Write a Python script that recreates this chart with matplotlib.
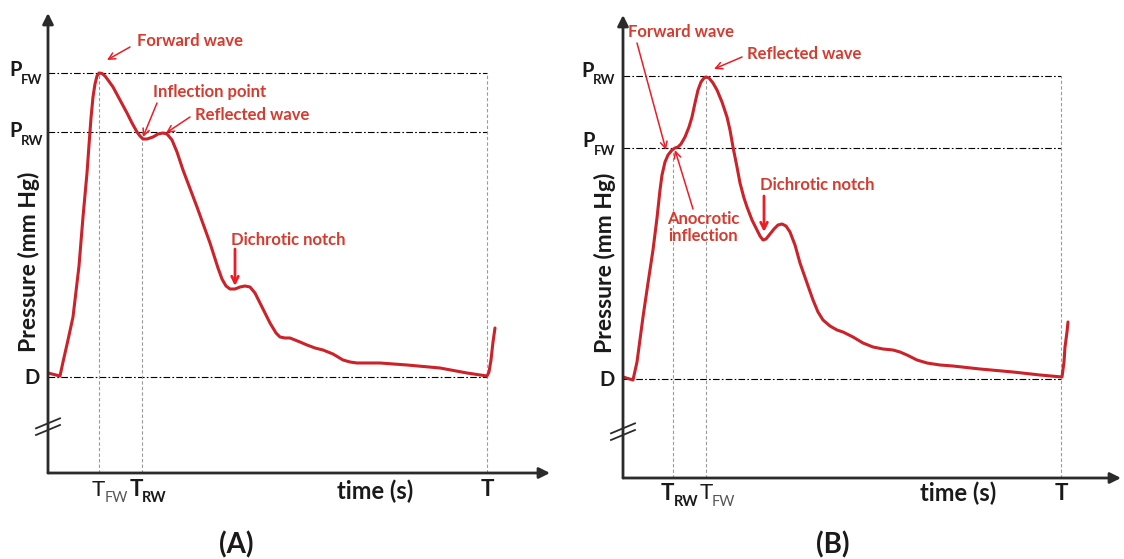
import matplotlib
matplotlib.use('Agg')
import matplotlib.pyplot as plt

plt.rcParams['font.family'] = ['Lato', 'DejaVu Sans']

# Panel A: forward wave peak first, reflected wave later (time in ms, pressure in mm Hg)
timeA = [0, 24, 30, 40, 50, 62, 70, 78, 82, 86, 90, 94, 98, 102, 108, 114, 120, 130, 144, 158, 168,
         178, 184, 190, 198, 210, 220, 230, 238, 248, 258, 270, 298, 324, 340, 348, 356, 364, 374, 384,
         394, 404, 414, 424, 444, 456, 464, 474, 484, 504, 518, 534, 550, 570, 590, 604, 618, 644, 664,
         718, 784, 838, 878, 882, 886, 890, 894]
pressureA = [75.0, 74.55, 76.65, 79.95, 83.4, 91.05, 98.4, 105.0, 109.2, 113.25, 116.4, 118.35, 119.55,
             120.0, 119.93, 119.55, 118.95, 117.9, 115.95, 114.0, 112.5, 111.15, 110.55, 110.1, 110.1,
             110.4, 110.85, 111.0, 110.85, 109.95, 108.15, 105.45, 99.9, 94.5, 90.75, 89.1, 88.05, 87.6,
             87.6, 87.9, 88.05, 87.9, 87.0, 85.5, 82.5, 81.0, 80.4, 80.25, 80.25, 79.65, 79.2, 78.75,
             78.45, 77.85, 76.95, 76.65, 76.5, 76.5, 76.5, 76.2, 75.75, 75.0, 74.55, 75.15, 76.95, 79.65,
             81.75]
levelsA = {'PFW': 120.05, 'PRW': 111.15, 'D': 74.4}
timesA = {'TFW': 102, 'TRW': 188, 'T': 878}

# Panel B: reflected wave arrives before forward wave peak
timeB = [0, 20, 28, 40, 50, 60, 68, 74, 78, 84, 90, 98, 104, 110, 116, 124, 132, 138, 144, 150, 156,
         162, 166, 172, 180, 188, 198, 208, 214, 220, 228, 234, 242, 248, 258, 268, 274, 280, 286, 294,
         302, 310, 318, 326, 334, 344, 354, 368, 380, 390, 400, 414, 428, 440, 460, 480, 500, 520, 540,
         554, 568, 588, 608, 634, 660, 714, 780, 834, 878, 882, 884, 888, 890]
pressureB = [75.15, 74.7, 77.4, 84.15, 89.25, 94.2, 99.0, 103.2, 105.45, 107.4, 108.45, 109.2, 109.5,
             109.65, 110.1, 111.15, 112.65, 114.15, 116.25, 118.2, 119.4, 120.0, 120.15, 120.0, 119.25,
             118.2, 116.4, 114.15, 112.2, 109.65, 106.65, 104.25, 102.0, 100.65, 98.7, 97.2, 96.3, 95.7,
             95.85, 96.6, 97.35, 97.95, 98.1, 97.8, 96.9, 94.95, 92.25, 89.25, 86.7, 84.9, 83.7, 82.8,
             82.2, 81.9, 81.15, 80.25, 79.65, 79.35, 79.2, 78.9, 78.45, 77.7, 77.25, 76.95, 76.8, 76.35,
             75.9, 75.45, 75.15, 77.4, 79.65, 81.9, 83.4]
levelsB = {'PRW': 120.3, 'PFW': 109.5, 'D': 74.85}
timesB = {'TRW': 100, 'TFW': 166, 'T': 876}

curveColor = '#CC2229'
noteColor = '#D63B2F'
arrowColor = '#EE1C25'
axisColor = '#2B2B2B'
textColor = '#1A1A1A'


def drawFrame(ax, xmax, ymin, ymax, breakP):
    ax.set_xlim(0, xmax)
    ax.set_ylim(ymin, ymax)
    ax.axis('off')
    for tip in [(0, 1), (1, 0)]:
        ax.annotate('', xy=tip, xytext=(0, 0), xycoords='axes fraction',
                    arrowprops=dict(arrowstyle='-|>', lw=2, color=axisColor,
                                    shrinkA=0, shrinkB=0, mutation_scale=16))
    # axis break marks
    for off in [0, 1.0]:
        ax.plot([-24, 24], [breakP - 0.75 + off, breakP + 0.75 + off], color=axisColor, lw=1.3,
                clip_on=False)


def hLine(ax, p, tEnd):
    ax.plot([0, tEnd], [p, p], color='black', lw=0.8, ls=(0, (6, 2, 1.5, 2)), clip_on=False)


def vLine(ax, t, pTop, ymin):
    ax.plot([t, t], [ymin, pTop], color='#9A9A9A', lw=0.8, ls=(0, (3, 2)), clip_on=False)


def subLabel(ax, main, sub, x, y, subX, subY, size, subSize, mainWeight='bold', subWeight='bold',
             subColor=textColor):
    ax.text(x, y, main, fontsize=size, fontweight=mainWeight, color=textColor, ha='center', va='center')
    ax.text(subX, subY, sub, fontsize=subSize, fontweight=subWeight, color=subColor, ha='left',
            va='center')


def note(ax, text, pos, start, end, lw=1.1, ms=12, ha='left'):
    ax.text(pos[0], pos[1], text, fontsize=12, fontweight='bold', color=noteColor, ha=ha,
            va='center', linespacing=1.05)
    ax.annotate('', xy=end, xytext=start,
                arrowprops=dict(arrowstyle='->', lw=lw, color=arrowColor, shrinkA=0, shrinkB=0,
                                mutation_scale=ms))


fig = plt.figure(figsize=(11.24, 5.59), dpi=100)

# ---------------- Panel A ----------------
axA = fig.add_axes([48 / 1124, 86 / 559, 502 / 1124, 460 / 559])
drawFrame(axA, 1004, 60, 129, 66.45)
for p in levelsA.values():
    hLine(axA, p, timesA['T'])
vLine(axA, timesA['TFW'], levelsA['PFW'], 60)
vLine(axA, timesA['TRW'], levelsA['PRW'], 60)
vLine(axA, timesA['T'], levelsA['PFW'], 60)
axA.plot(timeA, pressureA, color=curveColor, lw=2.2, solid_joinstyle='round', solid_capstyle='round')

subLabel(axA, 'P', 'FW', -64, 120.4, -54, 119.0, 14.5, 9.5)
subLabel(axA, 'P', 'RW', -64, 111.3, -54, 109.85, 14.5, 9.5)
axA.text(-32, 74.25, 'D', fontsize=14.5, fontweight='bold', color=textColor, ha='center', va='center')
axA.text(-38, 91.65, 'Pressure (mm Hg)', fontsize=16.5, fontweight='bold', color=textColor,
         rotation=90, ha='center', va='center')
subLabel(axA, 'T', 'FW', 101, 57.45, 113, 56.25, 16, 10.5, mainWeight='normal', subWeight='normal',
         subColor='#555555')
subLabel(axA, 'T', 'RW', 176, 57.45, 188, 56.25, 16, 10.5)
axA.text(654, 57.3, 'time (s)', fontsize=17, fontweight='bold', color=textColor, ha='center', va='center')
axA.text(878, 57.45, 'T', fontsize=16, fontweight='bold', color=textColor, ha='center', va='center')
axA.text(376, 49.2, '(A)', fontsize=20, fontweight='bold', color=textColor, ha='center', va='center')

note(axA, 'Forward wave', (178, 124.8), (164, 123.9), (118, 121.95))
note(axA, 'Inflection point', (210, 117.15), (218, 115.5), (190, 110.4))
note(axA, 'Reflected wave', (294, 113.7), (284, 113.4), (236, 111.0))
note(axA, 'Dichrotic notch', (366, 94.95), (374, 93.6), (374, 88.05), lw=2, ms=12)

# ---------------- Panel B ----------------
axB = fig.add_axes([623 / 1124, 81 / 559, 498 / 1124, 463 / 559])
drawFrame(axB, 996, 60, 129.45, 66.45)
for p in levelsB.values():
    hLine(axB, p, timesB['T'])
vLine(axB, timesB['TRW'], levelsB['PFW'], 60)
vLine(axB, timesB['TFW'], levelsB['PRW'], 60)
vLine(axB, timesB['T'], levelsB['PRW'], 60)
axB.plot(timeB, pressureB, color=curveColor, lw=2.2, solid_joinstyle='round', solid_capstyle='round')

subLabel(axB, 'P', 'RW', -70, 121.0, -60, 119.75, 14.5, 9.5)
subLabel(axB, 'P', 'FW', -68, 110.55, -58, 109.1, 14.5, 9.5)
axB.text(-32, 74.7, 'D', fontsize=14.5, fontweight='bold', color=textColor, ha='center', va='center')
axB.text(-36, 92.25, 'Pressure (mm Hg)', fontsize=16.5, fontweight='bold', color=textColor,
         rotation=90, ha='center', va='center')
subLabel(axB, 'T', 'RW', 89, 57.68, 102, 56.4, 16, 10.5)
subLabel(axB, 'T', 'FW', 166, 57.68, 177, 56.4, 16, 10.5, mainWeight='normal', subWeight='normal',
         subColor='#555555')
axB.text(670, 57.75, 'time (s)', fontsize=17, fontweight='bold', color=textColor, ha='center', va='center')
axB.text(876, 57.75, 'T', fontsize=16, fontweight='bold', color=textColor, ha='center', va='center')
axB.text(420, 49.95, '(B)', fontsize=20, fontweight='bold', color=textColor, ha='center', va='center')

note(axB, 'Forward wave', (10, 126.9), (28, 125.25), (86, 109.2))
note(axB, 'Reflected wave', (248, 123.6), (238, 123.15), (182, 121.35))
note(axB, 'Anocrotic\ninflection', (160, 97.6), (140, 100.35), (104, 109.2), ha='center')
note(axB, 'Dichrotic notch', (274, 103.95), (282, 102.3), (282, 96.9), lw=2, ms=12)

fig.savefig('out.png', dpi=100)
